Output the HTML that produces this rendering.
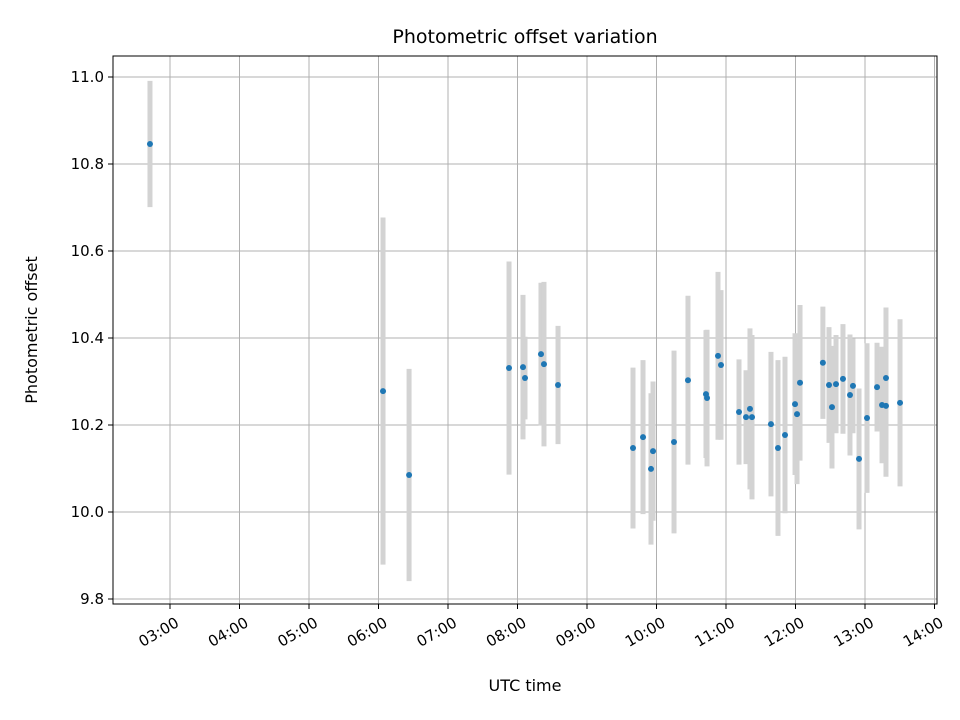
<!DOCTYPE html>
<html><head><meta charset="utf-8"><style>body{margin:0;background:#fff}svg{display:block;font-family:"DejaVu Sans","Liberation Sans",sans-serif}</style></head>
<body>
<svg id="c" width="960" height="720"></svg>
<script>
const times=[2.712,6.065,6.44,7.878,8.079,8.108,8.338,8.381,8.583,9.662,9.806,9.921,9.95,10.252,10.453,10.712,10.727,10.885,10.928,11.187,11.288,11.345,11.374,11.647,11.748,11.849,11.993,12.022,12.065,12.394,12.482,12.525,12.583,12.683,12.784,12.827,12.914,13.029,13.173,13.245,13.302,13.302,13.504];
const offsets=[10.846,10.278,10.085,10.331,10.333,10.308,10.363,10.340,10.292,10.147,10.172,10.099,10.140,10.161,10.303,10.271,10.262,10.359,10.338,10.230,10.218,10.237,10.218,10.202,10.147,10.177,10.248,10.225,10.297,10.343,10.292,10.241,10.294,10.306,10.269,10.290,10.122,10.216,10.287,10.246,10.244,10.308,10.251];
const errors=[0.145,0.399,0.244,0.245,0.166,0.095,0.164,0.189,0.136,0.185,0.177,0.174,0.160,0.210,0.194,0.147,0.157,0.193,0.172,0.121,0.108,0.185,0.189,0.166,0.202,0.180,0.163,0.161,0.179,0.129,0.133,0.141,0.113,0.126,0.139,0.109,0.162,0.172,0.102,0.134,0.163,0.162,0.192];
const yTicks=[9.8,10.0,10.2,10.4,10.6,10.8,11.0];
const xTicks=[3,4,5,6,7,8,9,10,11,12,13,14];
const xTickLabels=["03:00","04:00","05:00","06:00","07:00","08:00","09:00","10:00","11:00","12:00","13:00","14:00"];
const L=113,R=937,T=56,B=604;
const X=h=>170+(h-3)*69.5;
const Y=v=>512-(v-10)*435;
const svg=document.getElementById('c');const NS='http://www.w3.org/2000/svg';
function el(t,a,p){const e=document.createElementNS(NS,t);for(const k in a)e.setAttribute(k,a[k]);(p||svg).appendChild(e);return e;}
const grid=el('g',{});
xTicks.forEach((h,i)=>{const x=X(h);
 el('line',{x1:x,x2:x,y1:T,y2:B,stroke:'#b0b0b0','stroke-width':1},grid);
 el('line',{x1:x,x2:x,y1:B,y2:B+5,stroke:'#000'});
 const tx=x+5,ty=B+13;
 const t=el('text',{x:tx,y:ty+10,'font-size':15,'text-anchor':'end',transform:`rotate(-30 ${tx} ${ty})`});
 t.textContent=xTickLabels[i];});
yTicks.forEach(v=>{const y=Y(v);
 el('line',{x1:L,x2:R,y1:y,y2:y,stroke:'#b0b0b0','stroke-width':1},grid);
 el('line',{x1:L-5,x2:L,y1:y,y2:y,stroke:'#000'});
 const t=el('text',{x:L-9,y:y+5,'font-size':15,'text-anchor':'end'});
 t.textContent=v.toFixed(1);});
const eb=el('g',{});
times.forEach((h,i)=>{const b=el('line',{x1:X(h),x2:X(h),y1:Y(offsets[i]+errors[i]),y2:Y(offsets[i]-errors[i]),stroke:'#d3d3d3','stroke-width':5},eb);
 });
const pts=el('g',{});
times.forEach((h,i)=>{const c=el('circle',{cx:X(h),cy:Y(offsets[i]),r:3,fill:'#1f77b4'},pts);
 });
const f=el('rect',{x:L,y:T,width:R-L,height:B-T,fill:'none',stroke:'#000','stroke-width':1});

let t=el('text',{x:525,y:43,'font-size':19,'text-anchor':'middle'});t.textContent='Photometric offset variation';

t=el('text',{x:525,y:691,'font-size':16,'text-anchor':'middle'});t.textContent='UTC time';

t=el('text',{x:37,y:330,'font-size':16,'text-anchor':'middle',transform:'rotate(-90 37 330)'});t.textContent='Photometric offset';

</script>
</body></html>
